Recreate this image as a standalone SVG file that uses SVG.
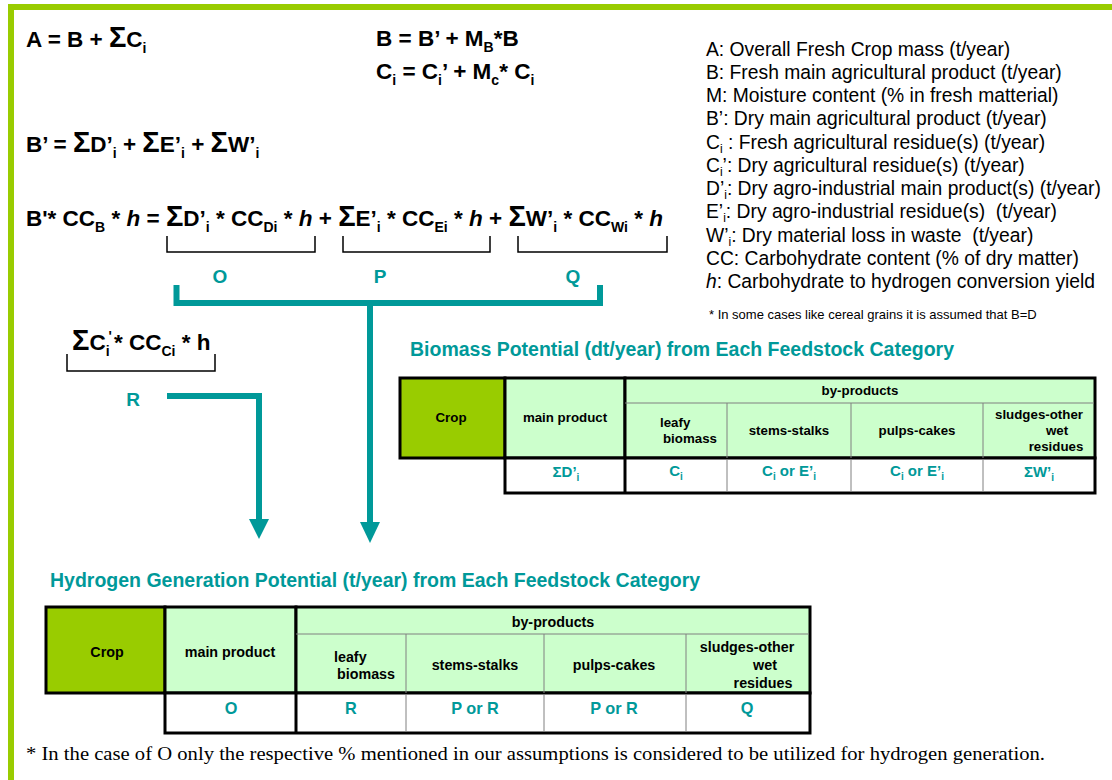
<svg xmlns="http://www.w3.org/2000/svg" width="1112" height="780" viewBox="0 0 1112 780">
  <style>
    .eq { font-family: "Liberation Sans", Arial, sans-serif; font-weight: bold; font-size: 22.5px; fill: #000; }
    .sig { font-size: 29px; }
    .sb { font-size: 14px; }
    .it { font-style: italic; }
    .leg { font-family: "Liberation Sans", Arial, sans-serif; font-size: 19.3px; fill: #000; white-space: pre; }
    .ls { font-size: 12px; }
    .note { font-family: "Liberation Sans", Arial, sans-serif; font-size: 13px; fill: #000; }
    .title { font-family: "Liberation Sans", Arial, sans-serif; font-weight: bold; font-size: 19.5px; fill: #009999; }
    .lbl { font-family: "Liberation Sans", Arial, sans-serif; font-weight: bold; font-size: 19px; fill: #009999; text-anchor: middle; }
    .th { font-family: "Liberation Sans", Arial, sans-serif; font-weight: bold; font-size: 13.3px; fill: #000; text-anchor: middle; }
    .thl { font-family: "Liberation Sans", Arial, sans-serif; font-weight: bold; font-size: 13.3px; fill: #000; }
    .hy { font-size: 14.3px; }
    .val { font-family: "Liberation Sans", Arial, sans-serif; font-weight: bold; font-size: 15px; fill: #009999; text-anchor: middle; }
    .hv { font-size: 16.3px; }
    .vs { font-size: 10px; }
    .crop { fill: #99CC00; stroke: #000; stroke-width: 3; }
    .hdr { fill: #CCFFCC; stroke: #000; stroke-width: 3; }
    .cell { fill: #FFFFFF; stroke: #000; stroke-width: 3; }
    .thin { stroke: #808080; stroke-width: 1; fill: none; }
    .thick { stroke: #000; stroke-width: 3; fill: none; }
    .brace { stroke: #000; stroke-width: 1.5; fill: none; }
    .flow { stroke: #009999; stroke-width: 6; fill: none; }
    .head { fill: #009999; }
    .foot { font-family: "Liberation Serif", "Times New Roman", serif; font-size: 18px; fill: #000; }
  </style>

  <!-- frame -->
  <rect x="8" y="4" width="1104" height="6" fill="#99CC00"/>
  <rect x="8" y="4" width="6" height="776" fill="#99CC00"/>

  <!-- equations -->
  <g id="equations">
    <text class="eq" x="26" y="47">A = B + <tspan class="sig">Σ</tspan>C<tspan class="sb" dy="6">i</tspan></text>
    <text class="eq" x="376" y="46">B = B’ + M<tspan class="sb" dy="6">B</tspan><tspan dy="-6">*B</tspan></text>
    <text class="eq" x="376" y="79">C<tspan class="sb" dy="6">i</tspan><tspan dy="-6"> = C</tspan><tspan class="sb" dy="6">i</tspan><tspan dy="-6">’ + M</tspan><tspan class="sb" dy="6">c</tspan><tspan dy="-6">* C</tspan><tspan class="sb" dy="6">i</tspan></text>
    <text class="eq" x="26" y="152">B’ = <tspan class="sig">Σ</tspan>D’<tspan class="sb" dy="6">i</tspan><tspan dy="-6"> + </tspan><tspan class="sig">Σ</tspan>E’<tspan class="sb" dy="6">i</tspan><tspan dy="-6"> + </tspan><tspan class="sig">Σ</tspan>W’<tspan class="sb" dy="6">i</tspan></text>
    <text class="eq" x="26" y="226">B'* CC<tspan class="sb" dy="6">B</tspan><tspan dy="-6"> * </tspan><tspan class="it">h</tspan> = <tspan class="sig">Σ</tspan>D’<tspan class="sb" dy="6">i</tspan><tspan dy="-6"> * CC</tspan><tspan class="sb" dy="6">Di</tspan><tspan dy="-6"> * </tspan><tspan class="it">h</tspan> + <tspan class="sig">Σ</tspan>E’<tspan class="sb" dy="6">i</tspan><tspan dy="-6"> * CC</tspan><tspan class="sb" dy="6">Ei</tspan><tspan dy="-6"> * </tspan><tspan class="it">h</tspan> + <tspan class="sig">Σ</tspan>W’<tspan class="sb" dy="6">i</tspan><tspan dy="-6"> * CC</tspan><tspan class="sb" dy="6">Wi</tspan><tspan dy="-6"> * </tspan><tspan class="it">h</tspan></text>
    <text class="eq" x="72" y="350"><tspan class="sig">Σ</tspan>C<tspan class="sb" dy="6">i</tspan><tspan class="sb" dx="-1" dy="-15">'</tspan><tspan dx="2" dy="9">* CC</tspan><tspan class="sb" dy="6">Ci</tspan><tspan dy="-6"> * h</tspan></text>
  </g>

  <!-- under-braces and their labels -->
  <g id="braces">
    <path class="brace" d="M167,236 V252 H315 V236"/>
    <path class="brace" d="M343,236 V252 H490 V236"/>
    <path class="brace" d="M518,236 V252 H667 V236"/>
    <path class="brace" d="M67,354 V371 H215 V354"/>
    <text class="lbl" x="220" y="283">O</text>
    <text class="lbl" x="380" y="283">P</text>
    <text class="lbl" x="573" y="283">Q</text>
    <text class="lbl" x="133" y="406">R</text>
  </g>

  <!-- legend -->
  <g id="legend">
    <text class="leg" x="706" y="56">A: Overall Fresh Crop mass (t/year)</text>
    <text class="leg" x="706" y="79">B: Fresh main agricultural product (t/year)</text>
    <text class="leg" x="706" y="102">M: Moisture content (% in fresh matterial)</text>
    <text class="leg" x="706" y="125">B’: Dry main agricultural product (t/year)</text>
    <text class="leg" x="706" y="149">C<tspan class="ls" dy="4">i</tspan><tspan dy="-4"> : Fresh agricultural residue(s) (t/year)</tspan></text>
    <text class="leg" x="706" y="172">C<tspan class="ls" dy="4">i</tspan><tspan dy="-4">’: Dry agricultural residue(s) (t/year)</tspan></text>
    <text class="leg" x="706" y="195">D’<tspan class="ls" dy="4">i</tspan><tspan dy="-4">: Dry agro-industrial main product(s) (t/year)</tspan></text>
    <text class="leg" x="706" y="218">E’<tspan class="ls" dy="4">i</tspan><tspan dy="-4">: Dry agro-industrial residue(s)  (t/year)</tspan></text>
    <text class="leg" x="706" y="242">W’<tspan class="ls" dy="4">i</tspan><tspan dy="-4">: Dry material loss in waste  (t/year)</tspan></text>
    <text class="leg" x="706" y="265">CC: Carbohydrate content (% of dry matter)</text>
    <text class="leg" x="706" y="288"><tspan font-style="italic">h</tspan>: Carbohydrate to hydrogen conversion yield</text>
    <text class="note" x="709" y="319">* In some cases like cereal grains it is assumed that B=D</text>
  </g>

  <!-- connectors -->
  <g id="connectors">
    <path class="flow" d="M176.5,285 V303 H600 V285"/>
    <path class="flow" d="M370,303 V524"/>
    <polygon class="head" points="360,522 380,522 370,543"/>
    <path class="flow" d="M167,396 H259 V521"/>
    <polygon class="head" points="249,519 269,519 259,539"/>
  </g>

  <!-- biomass table -->
  <g id="biomass-table">
    <text class="title" x="410" y="356">Biomass Potential (dt/year) from Each Feedstock Category</text>
    <rect class="crop" x="400" y="378" width="105" height="80"/>
    <rect class="hdr" x="505" y="378" width="120" height="80"/>
    <rect class="hdr" x="625" y="378" width="470" height="80"/>
    <rect class="cell" x="505" y="458" width="590" height="35"/>
    <path class="thin" d="M625,403 H1094 M727,403 V458 M851,403 V458 M983,403 V458 M727,459 V492 M851,459 V492 M983,459 V492"/>
    <path class="thick" d="M625,458 V493"/>
    <text class="th" x="451" y="422">Crop</text>
    <text class="th" x="565" y="422">main product</text>
    <text class="th" x="860" y="395">by-products</text>
    <text class="thl" x="660" y="427">leafy</text>
    <text class="thl" x="663" y="443">biomass</text>
    <text class="th" x="789" y="435">stems-stalks</text>
    <text class="th" x="917" y="435">pulps-cakes</text>
    <text class="th" x="1039" y="419">sludges-other</text>
    <text class="th" x="1057" y="435">wet</text>
    <text class="th" x="1056" y="451">residues</text>
    <text class="val" x="566" y="477">ΣD’<tspan class="vs" dy="4">i</tspan></text>
    <text class="val" x="676" y="476">C<tspan class="vs" dy="4">i</tspan></text>
    <text class="val" x="789" y="476">C<tspan class="vs" dy="4">i</tspan><tspan dy="-4"> or E’</tspan><tspan class="vs" dy="4">i</tspan></text>
    <text class="val" x="917" y="476">C<tspan class="vs" dy="4">i</tspan><tspan dy="-4"> or E’</tspan><tspan class="vs" dy="4">i</tspan></text>
    <text class="val" x="1039" y="477">ΣW’<tspan class="vs" dy="4">i</tspan></text>
  </g>

  <!-- hydrogen table -->
  <g id="hydrogen-table">
    <text class="title" x="50" y="587">Hydrogen Generation Potential (t/year) from Each Feedstock Category</text>
    <rect class="crop" x="46" y="607" width="119" height="86"/>
    <rect class="hdr" x="165" y="607" width="131" height="86"/>
    <rect class="hdr" x="296" y="607" width="514" height="86"/>
    <rect class="cell" x="165" y="693" width="645" height="40"/>
    <path class="thin" d="M296,634 H809 M406,634 V693 M544,634 V693 M686,634 V693 M406,694 V732 M544,694 V732 M686,694 V732"/>
    <path class="thick" d="M296,693 V733"/>
    <text class="th hy" x="107" y="657">Crop</text>
    <text class="th hy" x="230" y="657">main product</text>
    <text class="th hy" x="553" y="627">by-products</text>
    <text class="thl hy" x="334" y="662">leafy</text>
    <text class="thl hy" x="337" y="679">biomass</text>
    <text class="th hy" x="475" y="670">stems-stalks</text>
    <text class="th hy" x="614" y="670">pulps-cakes</text>
    <text class="th hy" x="747" y="652">sludges-other</text>
    <text class="th hy" x="765" y="670">wet</text>
    <text class="th hy" x="763" y="688">residues</text>
    <text class="val hv" x="231" y="714">O</text>
    <text class="val hv" x="351" y="714">R</text>
    <text class="val hv" x="475" y="714">P or R</text>
    <text class="val hv" x="614" y="714">P or R</text>
    <text class="val hv" x="747" y="714">Q</text>
  </g>

  <text class="foot" x="26" y="760" textLength="1019" lengthAdjust="spacingAndGlyphs">* In the case of O only the respective % mentioned in our assumptions is considered to be utilized for hydrogen generation.</text>
</svg>
